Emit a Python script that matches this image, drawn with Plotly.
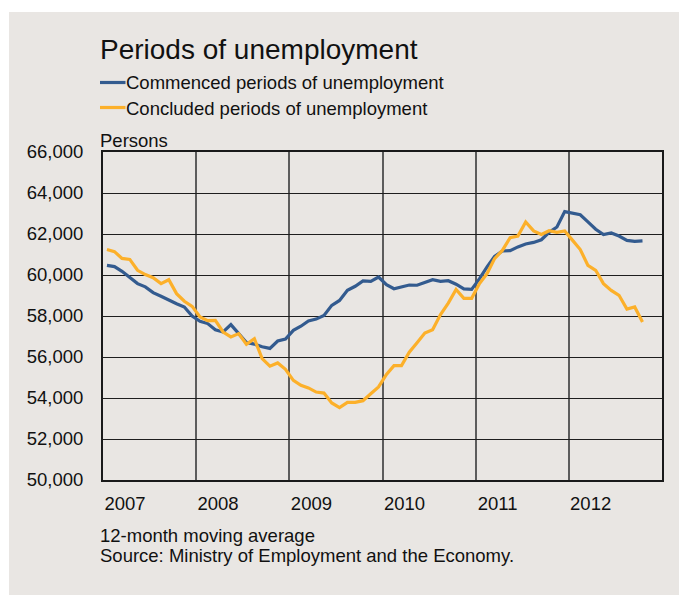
import pandas as pd
import plotly.graph_objects as go

# Monthly observations, January 2007 - October 2012 (12-month moving averages)
months = pd.date_range("2007-01-01", periods=70, freq="MS")

commenced = [
    60470, 60410, 60180, 59870, 59580, 59420, 59140, 58960, 58760, 58600,
    58440, 58000, 57740, 57630, 57330, 57220, 57580, 57140, 56700, 56630,
    56500, 56420, 56780, 56880, 57300, 57500, 57760, 57850, 58030, 58520,
    58760, 59250, 59450, 59710, 59690, 59900, 59530, 59330, 59420, 59510,
    59500, 59640, 59770, 59690, 59720, 59550, 59320, 59300, 59820, 60390,
    60910, 61170, 61190, 61370, 61510, 61590, 61720, 62080, 62340, 63090,
    63020, 62940, 62590, 62230, 61970, 62050, 61900, 61690, 61640, 61660,
]

concluded = [
    61240, 61140, 60810, 60760, 60230, 60020, 59870, 59580, 59770, 59090,
    58720, 58470, 57950, 57770, 57790, 57220, 56980, 57140, 56620, 56890,
    55920, 55550, 55710, 55400, 54860, 54620, 54490, 54290, 54240, 53760,
    53530, 53790, 53790, 53870, 54210, 54540, 55150, 55580, 55580, 56230,
    56700, 57170, 57330, 58070, 58630, 59290, 58860, 58860, 59580, 60070,
    60800, 61200, 61820, 61900, 62590, 62150, 61980, 62160, 62080, 62150,
    61690, 61240, 60470, 60230, 59580, 59250, 59010, 58340, 58440, 57710,
]

series_names = ["Commenced periods of unemployment", "Concluded periods of unemployment"]
series_colors = ["#335b8f", "#fcb02a"]
series_values = [commenced, concluded]

year_ticks = ["2007-01-01", "2008-01-01", "2009-01-01", "2010-01-01", "2011-01-01", "2012-01-01"]
year_labels = ["2007", "2008", "2009", "2010", "2011", "2012"]

title_text = "Periods of unemployment"
unit_text = "Persons"
note_lines = ["12-month moving average", "Source: Ministry of Employment and the Economy."]

W, H = 679, 595
ML, MR, MT, MB = 103, 17, 152, 115
PW, PH = W - ML - MR, H - MT - MB

BG = "#e9e6e3"
FONT = "Liberation Sans, Arial, sans-serif"
TXT = "#111111"


def px_x(x):
    return (x - ML) / PW


def px_y(y):
    return (H - MB - y) / PH


fig = go.Figure()
for name, vals, col in zip(series_names, series_values, series_colors):
    fig.add_trace(go.Scatter(
        x=months, y=vals, name=name, mode="lines",
        xperiod="M1", xperiodalignment="middle",
        line=dict(color=col, width=3.2),
        showlegend=False,
    ))

shapes = [
    # white margin strips around the grey panel
    dict(type="rect", xref="paper", yref="paper", x0=px_x(0), x1=px_x(W), y0=px_y(0), y1=px_y(12),
         fillcolor="white", line_width=0, layer="above"),
    dict(type="rect", xref="paper", yref="paper", x0=px_x(0), x1=px_x(9), y0=px_y(H), y1=px_y(0),
         fillcolor="white", line_width=0, layer="above"),
]

annotations = [
    dict(text=title_text, x=px_x(98), y=px_y(50), xref="paper", yref="paper",
         xanchor="left", yanchor="middle", showarrow=False,
         font=dict(family=FONT, size=28, color=TXT)),
    dict(text=unit_text, x=px_x(98), y=px_y(140), xref="paper", yref="paper",
         xanchor="left", yanchor="middle", showarrow=False,
         font=dict(family=FONT, size=18.5, color=TXT)),
]

# hand-drawn legend: short line swatch directly followed by the series name
for k, (name, col) in enumerate(zip(series_names, series_colors)):
    yk = 82.5 + 25 * k
    shapes.append(dict(type="line", xref="paper", yref="paper",
                       x0=px_x(100), x1=px_x(125.5), y0=px_y(yk), y1=px_y(yk),
                       line=dict(color=col, width=3.2), layer="above"))
    annotations.append(dict(text=name, x=px_x(124), y=px_y(yk + 0.5), xref="paper", yref="paper",
                            xanchor="left", yanchor="middle", showarrow=False,
                            font=dict(family=FONT, size=18.5, color=TXT)))

for k, line in enumerate(note_lines):
    annotations.append(dict(text=line, x=px_x(98), y=px_y(535 + 20 * k), xref="paper", yref="paper",
                            xanchor="left", yanchor="middle", showarrow=False,
                            font=dict(family=FONT, size=18.5, color=TXT)))

fig.update_layout(
    width=W, height=H,
    margin=dict(l=ML, r=MR, t=MT, b=MB, pad=0),
    paper_bgcolor=BG, plot_bgcolor=BG,
    font=dict(family=FONT, size=18.5, color=TXT),
    shapes=shapes, annotations=annotations,
)

fig.update_xaxes(
    type="date", range=["2007-01-01", "2013-01-01"],
    tickmode="array", tickvals=year_ticks, ticktext=year_labels,
    ticks="", ticklabelshift=22, ticklabelstandoff=6,
    showgrid=True, gridcolor="#5c5c5c", gridwidth=1.8,
    showline=True, mirror=True, linecolor="#1a1a1a", linewidth=2,
    zeroline=False, fixedrange=True,
)
fig.update_yaxes(
    range=[50000, 66000], dtick=2000, tick0=50000, tickformat=",d",
    ticks="", ticklabelstandoff=14,
    showgrid=True, gridcolor="#1e1e1e", gridwidth=1.2,
    showline=True, mirror=True, linecolor="#1a1a1a", linewidth=2,
    zeroline=False, fixedrange=True,
)

fig.write_html("out.html", config={"displayModeBar": False})
